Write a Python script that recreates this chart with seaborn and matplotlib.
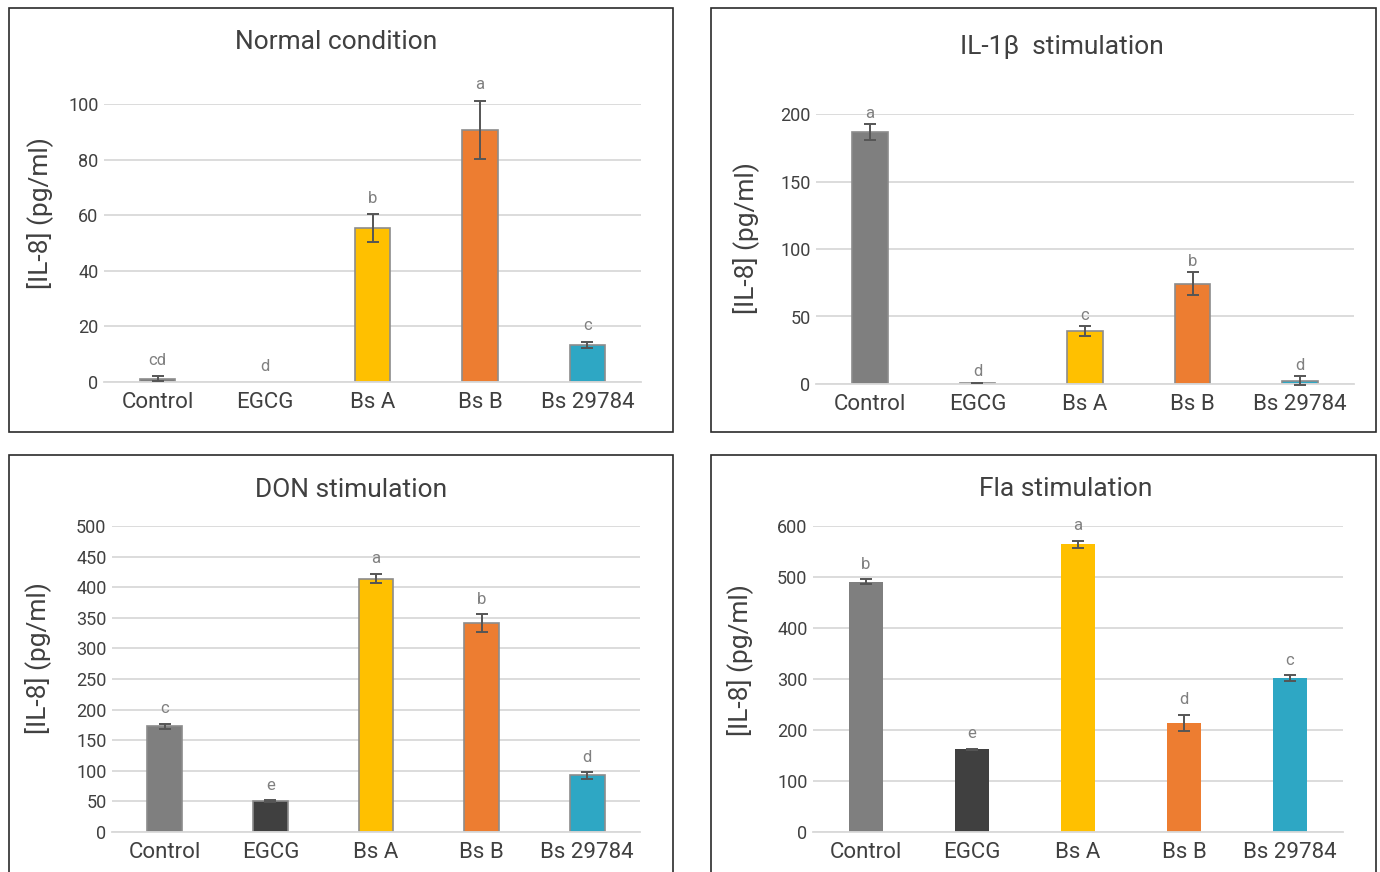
import matplotlib
matplotlib.use("Agg")
import matplotlib.pyplot as plt
import seaborn as sns
import pandas as pd
import numpy as np
from matplotlib.patches import Rectangle

sns.set_theme(style="white")
plt.rcParams['font.family'] = ['Roboto', 'DejaVu Sans']

categories = ["Control", "EGCG", "Bs A", "Bs B", "Bs 29784"]
colors = ["#7f7f7f", "#404040", "#ffc000", "#ed7d31", "#2ea7c4"]

titles = ["Normal condition", "IL-1β  stimulation", "DON stimulation", "Fla stimulation"]

normal_mean = [1.2, 0.0, 55.3, 90.7, 13.4]
normal_err = [0.8, 0.0, 5.1, 10.4, 1.1]
normal_letters = ["cd", "d", "b", "a", "c"]
normal_ticks = [0, 20, 40, 60, 80, 100]

il1b_mean = [186.5, 0.7, 39.0, 74.3, 2.5]
il1b_err = [6.0, 0.3, 3.7, 8.4, 3.2]
il1b_letters = ["a", "d", "c", "b", "d"]
il1b_ticks = [0, 50, 100, 150, 200]

don_mean = [172.8, 50.5, 414.0, 341.0, 92.4]
don_err = [4.3, 1.5, 7.6, 15.0, 5.4]
don_letters = ["c", "e", "a", "b", "d"]
don_ticks = [0, 50, 100, 150, 200, 250, 300, 350, 400, 450, 500]

fla_mean = [491.0, 162.0, 564.0, 214.0, 302.0]
fla_err = [4.5, 1.5, 7.0, 15.6, 5.5]
fla_letters = ["b", "e", "a", "d", "c"]
fla_ticks = [0, 100, 200, 300, 400, 500, 600]

W, H = 1380, 872
fig = plt.figure(figsize=(W / 100, H / 100), dpi=100)

def px_axes(x0, x1, ytop, ybot):
    return [x0 / W, 1 - ybot / H, (x1 - x0) / W, (ybot - ytop) / H]

panels = [
    dict(rect=px_axes(104, 641, 104, 382), box=(9, 8, 673, 432), title_xy=(336, 42), ylab_xy=(40, 213),
         mean=normal_mean, err=normal_err, letters=normal_letters, ticks=normal_ticks, edge=True, loff=16),
    dict(rect=px_axes(816, 1354, 114, 384), box=(711, 8, 1376, 432), title_xy=(1062, 47), ylab_xy=(746, 238),
         mean=il1b_mean, err=il1b_err, letters=il1b_letters, ticks=il1b_ticks, edge=True, loff=11),
    dict(rect=px_axes(112, 640, 526, 832), box=(9, 455, 673, 900), title_xy=(351, 490), ylab_xy=(38, 658),
         mean=don_mean, err=don_err, letters=don_letters, ticks=don_ticks, edge=True, loff=15),
    dict(rect=px_axes(813, 1343, 526, 832), box=(711, 455, 1376, 900), title_xy=(1066, 489), ylab_xy=(740, 660),
         mean=fla_mean, err=fla_err, letters=fla_letters, ticks=fla_ticks, edge=False, loff=15),
]

txt_color = "#404040"

for i, p in enumerate(panels):
    ax = fig.add_axes(p["rect"])
    df = pd.DataFrame({"cat": categories, "val": p["mean"]})
    sns.barplot(data=df, x="cat", y="val", hue="cat", order=categories, hue_order=categories,
                palette=colors, saturation=1, width=0.33, errorbar=None, legend=False, ax=ax,
                edgecolor="#8c8c8c" if p["edge"] else "none", linewidth=1.2 if p["edge"] else 0)
    for patch in ax.patches:
        if patch.get_height() == 0:
            patch.set_linewidth(0)
    xs = np.arange(len(categories))
    mean = np.array(p["mean"])
    err = np.array(p["err"])
    has = err > 0
    ax.errorbar(xs[has], mean[has], yerr=err[has], fmt="none", ecolor="#555555", elinewidth=1.4,
                capsize=4, capthick=1.4, clip_on=False, zorder=5)
    for x, m, e, lab in zip(xs, mean, err, p["letters"]):
        ax.annotate(lab, (x, m + e), xytext=(0, p["loff"] * 0.72), textcoords="offset points",
                    ha="center", va="center", fontsize=12, color="#808080", annotation_clip=False)
    ax.set_xlim(-0.5, len(categories) - 0.5)
    ax.set_ylim(p["ticks"][0], p["ticks"][-1])
    ax.set_yticks(p["ticks"])
    ax.set_yticklabels([str(t) for t in p["ticks"]])
    ax.yaxis.grid(True, color="#d9d9d9", linewidth=1.3)
    ax.set_axisbelow(True)
    for s in ["top", "right", "left"]:
        ax.spines[s].set_visible(False)
    ax.spines["bottom"].set_color("#d9d9d9")
    ax.spines["bottom"].set_linewidth(1.3)
    ax.tick_params(axis="both", length=0)
    ax.tick_params(axis="y", labelsize=13, labelcolor=txt_color, pad=4)
    ax.tick_params(axis="x", labelsize=16, labelcolor=txt_color, pad=7)
    ax.set_xlabel("")
    ax.set_ylabel("")
    ax.patch.set_alpha(0)

    x0, y0, x1, y1 = p["box"]
    fig.add_artist(Rectangle((x0 / W, 1 - y1 / H), (x1 - x0) / W, (y1 - y0) / H,
                             transform=fig.transFigure, fill=False, edgecolor="#2b2b2b",
                             linewidth=1.2, clip_on=False))
    tx, ty = p["title_xy"]
    fig.text(tx / W, 1 - ty / H, titles[i], ha="center", va="center", fontsize=19, color=txt_color)
    lx, ly = p["ylab_xy"]
    fig.text(lx / W, 1 - ly / H, "[IL-8] (pg/ml)", ha="center", va="center", rotation=90,
             fontsize=19, color=txt_color)

fig.savefig("out.png", dpi=100, facecolor="white")
